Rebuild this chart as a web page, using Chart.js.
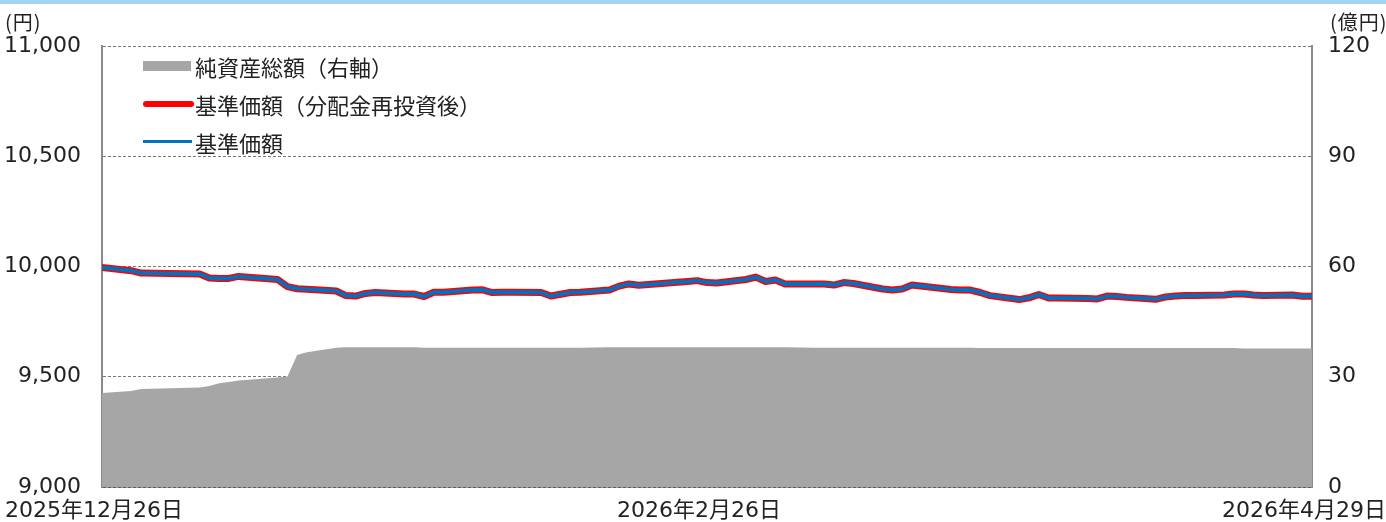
<!DOCTYPE html>
<html lang="ja">
<head>
<meta charset="utf-8">
<script src="https://cdn.jsdelivr.net/npm/chart.js@4/dist/chart.umd.min.js"></script>
<style>
  body { margin: 0; background: #fff; }
  #wrap { position: relative; width: 1386px; height: 522px; overflow: hidden; }
  #topbar { position: absolute; left: 0; top: 0; width: 1386px; height: 4px; background: #a3d5f3; }
  .unit { position: absolute; top: 7px; font: 20px "Noto Sans CJK JP", sans-serif; letter-spacing: 1px; color: #222; white-space: nowrap; }
  #legend { position: absolute; left: 141px; top: 50px; font: 22px "Noto Sans CJK JP", sans-serif; color: #222; }
  .item { position: relative; height: 38px; line-height: 32px; padding-left: 54px; white-space: nowrap; }
  .swatch { position: absolute; left: 2px; }
</style>
</head>
<body>
<div id="wrap">
  <canvas id="chart" width="1386" height="522"></canvas>
  <div id="topbar"></div>
  <div class="unit" style="left:5px">(円)</div>
  <div class="unit" style="left:1330px">(億円)</div>
  <div id="legend">
    <div class="item"><span class="swatch" style="top:11px;width:48px;height:10px;background:#a6a6a6"></span>純資産総額（右軸）</div>
    <div class="item"><span class="swatch" style="top:13px;width:51px;height:6px;border-radius:3px;background:#ff0000"></span>基準価額（分配金再投資後）</div>
    <div class="item"><span class="swatch" style="top:14px;width:49px;height:3px;background:#0070c0"></span>基準価額</div>
  </div>
</div>
<script>
// business days shown on the chart
const dates = ['2025-12-26','2025-12-29','2025-12-30',
  '2026-01-05','2026-01-06','2026-01-07','2026-01-08','2026-01-09','2026-01-13','2026-01-14','2026-01-15','2026-01-16',
  '2026-01-19','2026-01-20','2026-01-21','2026-01-22','2026-01-23','2026-01-26','2026-01-27','2026-01-28','2026-01-29','2026-01-30',
  '2026-02-02','2026-02-03','2026-02-04','2026-02-05','2026-02-06','2026-02-09','2026-02-10','2026-02-12','2026-02-13',
  '2026-02-16','2026-02-17','2026-02-18','2026-02-19','2026-02-20','2026-02-24','2026-02-25','2026-02-26','2026-02-27',
  '2026-03-02','2026-03-03','2026-03-04','2026-03-05','2026-03-06','2026-03-09','2026-03-10','2026-03-11','2026-03-12','2026-03-13',
  '2026-03-16','2026-03-17','2026-03-18','2026-03-19','2026-03-23','2026-03-24','2026-03-25','2026-03-26','2026-03-27','2026-03-30','2026-03-31',
  '2026-04-01','2026-04-02','2026-04-03','2026-04-06','2026-04-07','2026-04-08','2026-04-09','2026-04-10','2026-04-13','2026-04-14',
  '2026-04-15','2026-04-16','2026-04-17','2026-04-20','2026-04-21','2026-04-22','2026-04-23','2026-04-24','2026-04-27','2026-04-28','2026-04-29'];

// 基準価額 (円)
const nav = [9995, 9981, 9970,
  9966, 9948, 9946, 9946, 9955, 9941, 9909, 9899, 9897,
  9889, 9868, 9866, 9878, 9882, 9875, 9875, 9864, 9883, 9883,
  9893, 9894, 9882, 9883, 9883, 9882, 9866, 9882, 9883,
  9893, 9911, 9921, 9915, 9918, 9932, 9936, 9927, 9925,
  9941, 9952, 9932, 9939, 9921, 9921, 9921, 9916, 9927, 9923,
  9898, 9893, 9898, 9916, 9896, 9893, 9893, 9882, 9868, 9850, 9858,
  9873, 9857, 9857, 9855, 9853, 9866, 9864, 9860, 9851, 9862,
  9866, 9869, 9869, 9871, 9875, 9875, 9871, 9869, 9871, 9865, 9865];

// 基準価額（分配金再投資後） - no distribution paid, same as nav
const navReinvested = [9995, 9981, 9970,
  9966, 9948, 9946, 9946, 9955, 9941, 9909, 9899, 9897,
  9889, 9868, 9866, 9878, 9882, 9875, 9875, 9864, 9883, 9883,
  9893, 9894, 9882, 9883, 9883, 9882, 9866, 9882, 9883,
  9893, 9911, 9921, 9915, 9918, 9932, 9936, 9927, 9925,
  9941, 9952, 9932, 9939, 9921, 9921, 9921, 9916, 9927, 9923,
  9898, 9893, 9898, 9916, 9896, 9893, 9893, 9882, 9868, 9850, 9858,
  9873, 9857, 9857, 9855, 9853, 9866, 9864, 9860, 9851, 9862,
  9866, 9869, 9869, 9871, 9875, 9875, 9871, 9869, 9871, 9865, 9865];

// 純資産総額 (億円)
const netAssets = [25.6, 26.1, 26.7,
  27.1, 27.5, 28.2, 28.6, 29.0, 29.8, 30.1, 35.9, 36.7,
  37.9, 38.0, 38.0, 38.0, 38.0, 38.0, 38.0, 37.9, 37.9, 37.9,
  37.9, 37.9, 37.9, 37.9, 37.9, 37.9, 37.9, 37.9, 37.9,
  38.0, 38.0, 38.0, 38.0, 38.0, 38.0, 38.0, 38.0, 38.0,
  38.0, 38.0, 38.0, 38.0, 38.0, 37.9, 37.9, 37.9, 37.9, 37.9,
  37.9, 37.9, 37.9, 37.9, 37.9, 37.9, 37.9, 37.8, 37.8, 37.8, 37.8,
  37.8, 37.8, 37.8, 37.8, 37.8, 37.8, 37.8, 37.8, 37.8, 37.8,
  37.8, 37.8, 37.8, 37.8, 37.8, 37.7, 37.7, 37.7, 37.7, 37.7, 37.7];

const xTickDates = ['2025-12-26', '2026-02-26', '2026-04-29'];
const xTickLabels = ['2025年12月26日', '2026年2月26日', '2026年4月29日'];
const leftTicks = [9000, 9500, 10000, 10500, 11000];
const rightTicks = [0, 30, 60, 90, 120];

// x axis is a calendar axis: days since the first date
const dayOf = s => (Date.parse(s + 'T00:00:00Z') - Date.parse(dates[0] + 'T00:00:00Z')) / 86400000;
const xs = dates.map(dayOf);
const pts = vals => vals.map((v, i) => ({ x: xs[i], y: v }));

const tickFont = { family: '"DejaVu Sans", "Noto Sans CJK JP", sans-serif', size: 22 };

new Chart(document.getElementById('chart'), {
  type: 'line',
  data: {
    datasets: [
      { label: '基準価額', data: pts(nav), yAxisID: 'y', borderColor: '#0070c0', borderWidth: 4, pointRadius: 0, order: 0 },
      { label: '基準価額（分配金再投資後）', data: pts(navReinvested), yAxisID: 'y', borderColor: '#ff0000', borderWidth: 7, pointRadius: 0, order: 1 },
      { label: '純資産総額（右軸）', data: pts(netAssets), yAxisID: 'y1', borderWidth: 0, borderColor: 'rgba(0,0,0,0)',
        backgroundColor: '#a6a6a6', fill: 'origin', pointRadius: 0, order: 2 }
    ]
  },
  options: {
    responsive: false,
    animation: false,
    devicePixelRatio: 1,
    layout: { padding: { top: 46, left: 0, right: 0, bottom: 0 } },
    plugins: { legend: { display: false }, tooltip: { enabled: false } },
    elements: { line: { tension: 0, borderJoinStyle: 'round', borderCapStyle: 'butt' } },
    scales: {
      x: {
        type: 'linear', min: 0, max: dayOf(dates[dates.length - 1]),
        afterFit: s => { s.height = 35; s.paddingLeft = 0; s.paddingRight = 0; },
        afterBuildTicks: s => { s.ticks = xTickDates.map(d => ({ value: dayOf(d) })); },
        grid: { display: false, drawTicks: false },
        border: { display: true, color: '#404040', width: 1.5 },
        ticks: {
          autoSkip: false, maxRotation: 0, padding: 11, labelOffset: -8, color: '#222', font: tickFont,
          callback: v => xTickLabels[xTickDates.map(dayOf).indexOf(v)]
        }
      },
      y: {
        position: 'left', min: 9000, max: 11000,
        afterFit: s => { s.width = 102; },
        afterBuildTicks: s => { s.ticks = leftTicks.map(v => ({ value: v })); },
        grid: { color: '#7a7a7a', lineWidth: 1, drawTicks: false },
        border: { display: true, color: '#8a8a8a', width: 2, dash: [3, 2] },
        ticks: { padding: 21, color: '#222', font: tickFont, callback: v => v.toLocaleString('en-US') }
      },
      y1: {
        position: 'right', min: 0, max: 120,
        afterFit: s => { s.width = 74; },
        afterBuildTicks: s => { s.ticks = rightTicks.map(v => ({ value: v })); },
        grid: { display: false, drawTicks: false },
        border: { display: true, color: '#8a8a8a', width: 2 },
        ticks: { padding: 16, color: '#222', font: tickFont }
      }
    }
  }
});
</script>
</body>
</html>
